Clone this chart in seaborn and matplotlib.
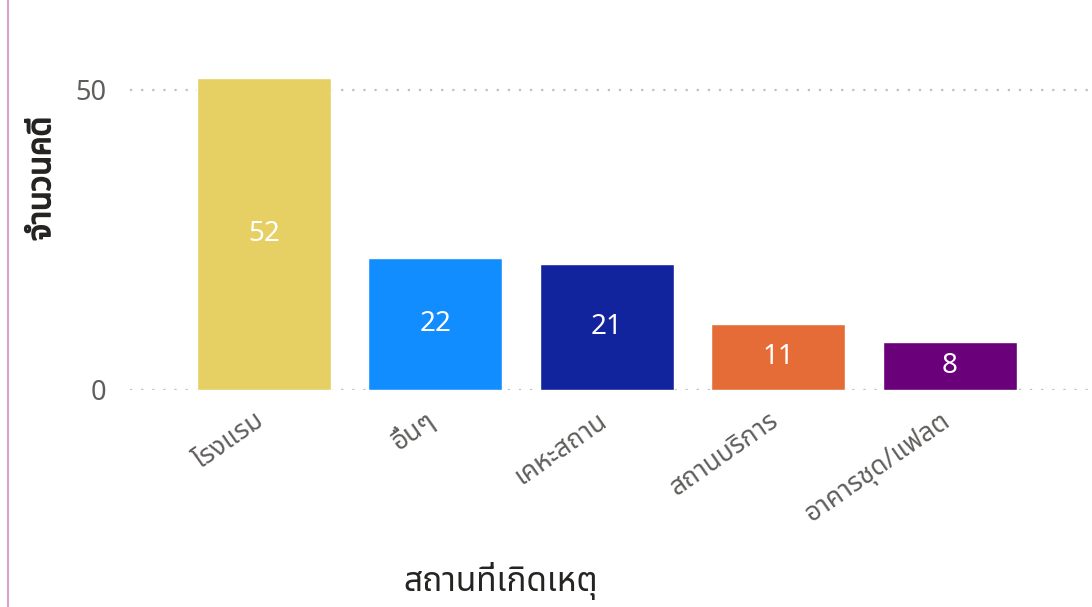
import matplotlib
matplotlib.use("Agg")
import matplotlib.pyplot as plt
import seaborn as sns
import pandas as pd
from matplotlib import font_manager as fm
from matplotlib.ft2font import FT2Font
from matplotlib.lines import Line2D
from matplotlib.transforms import ScaledTranslation
import matplotlib.patheffects as pe

categories = ["โรงแรม", "อื่นๆ", "เคหะสถาน", "สถานบริการ", "อาคารชุด/แฟลต"]
values = [52, 22, 21, 11, 8]
colors = ["#E6CF63", "#118DFF", "#12239E", "#E66C37", "#6B007B"]
y_ticks = [0, 50]
x_title = "สถานที่เกิดเหตุ"
y_title = "จำนวนคดี"


def find_thai_family():
    preferred = ["Noto Sans Thai", "Noto Sans Thai UI", "Loma", "Garuda", "Tahoma", "Leelawadee UI"]
    found = []
    for f in fm.fontManager.ttflist:
        try:
            if 0x0E2A in FT2Font(f.fname).get_charmap():
                found.append(f.name)
        except Exception:
            pass
    for p in preferred:
        if p in found:
            return p
    return found[0] if found else None


sns.set_theme(style="white")
thai = find_thai_family()
fams = ([thai] if thai else []) + ["DejaVu Sans"]
plt.rcParams["font.family"] = fams

df = pd.DataFrame({"cat": categories, "val": values})

fig = plt.figure(figsize=(10.92, 6.07), dpi=100)
ax = fig.add_axes([130 / 1092, (607 - 390) / 607, (1092 - 130) / 1092, 330 / 607])

sns.barplot(data=df, x="cat", y="val", hue="cat", palette=colors, legend=False,
            width=0.78, saturation=1, ax=ax)

ax.set_xlim(-0.78, 4.83)
ax.set_ylim(0, 55)
ax.set_yticks(y_ticks)
ax.yaxis.grid(True, linestyle=(0, (1, 4)), color="#BFBFBF", linewidth=1.6)
ax.set_axisbelow(True)
for s in ax.spines.values():
    s.set_visible(False)

ax.tick_params(axis="y", labelsize=19.5, labelcolor="#605E5C", length=0, pad=17)
ax.tick_params(axis="x", labelsize=19, labelcolor="#605E5C", length=0, pad=12)
shift = ScaledTranslation(-10 / 100, 0, fig.dpi_scale_trans)
for lbl in ax.get_xticklabels():
    lbl.set_rotation(35)
    lbl.set_ha("right")
    lbl.set_rotation_mode("anchor")
    lbl.set_transform(lbl.get_transform() + shift)

for cont in ax.containers:
    ax.bar_label(cont, label_type="center", color="white", fontsize=20)

ax.set_xlabel(x_title, fontsize=24, color="#252423", va="center")
ax.xaxis.set_label_coords(0.385, -0.58)
ylab = ax.set_ylabel(y_title, fontsize=23, color="#252423", va="center")
ylab.set_path_effects([pe.withStroke(linewidth=1.2, foreground="#252423")])
ax.yaxis.set_label_coords(-0.092, 0.64)

fig.add_artist(Line2D([8 / 1092, 8 / 1092], [0, 1], transform=fig.transFigure,
                      color="#D9A3CC", linewidth=1.5))

fig.savefig("out.png", dpi=100)
